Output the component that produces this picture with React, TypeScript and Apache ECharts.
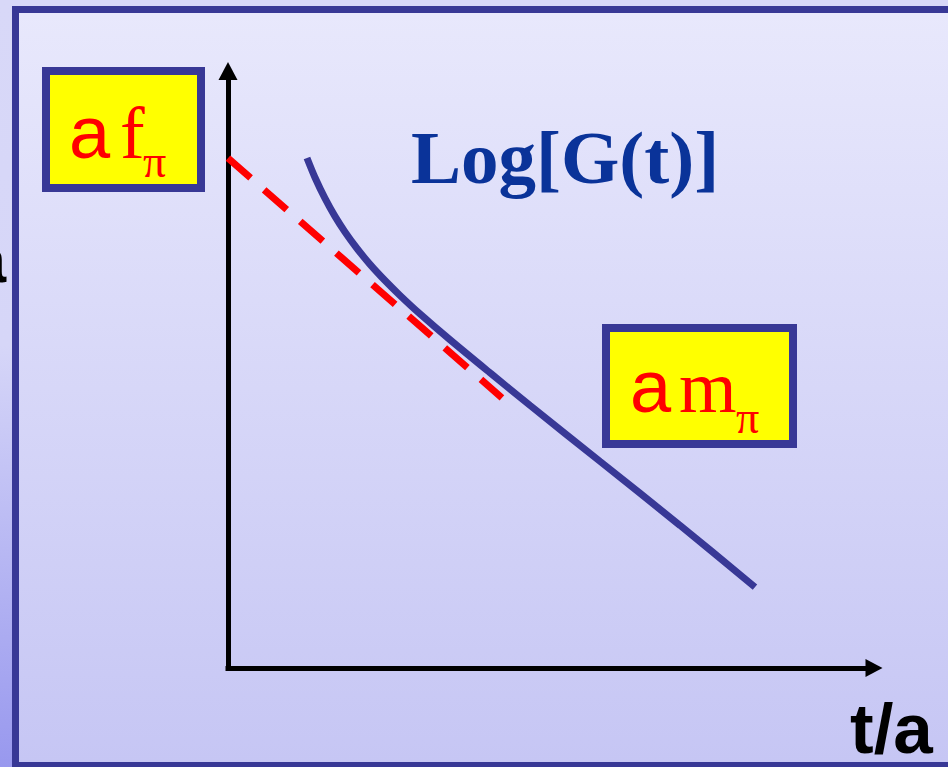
import React, { useEffect, useRef } from "react";
import * as echarts from "echarts";

// Axis ranges (abstract units: t/a on x, Log[G(t)] on y)
const xRange = [0, 10];
const yRange = [0, 10];

// Log[G(t)] curve
const curveT = [1.234, 1.359, 1.516, 1.672, 1.828, 2.016, 2.219, 2.453, 2.688, 3.0, 3.469, 4.094, 4.719, 5.813, 7.063, 8.234];
const curveLogG = [8.644, 8.314, 7.959, 7.654, 7.39, 7.11, 6.842, 6.568, 6.315, 6.002, 5.563, 5.003, 4.451, 3.502, 2.417, 1.37];

// dashed asymptote (a f_pi intercept, slope a m_pi)
const fitT = [0, 4.28];
const fitLogG = [8.64, 4.58];

// labels
const titleText = "Log[G(t)]";
const xAxisText = "t/a";

const SANS = '"Liberation Sans", Arial, sans-serif';
const SERIF = '"Liberation Serif", "Times New Roman", serif';

export default function App() {
  const ref = useRef<HTMLDivElement>(null);
  useEffect(() => {
    if (!ref.current) return;
    const chart = echarts.init(ref.current, null, { renderer: "svg" });
    const txt = (text: string, x: number, baseline: number, size: number, family: string, color: string, weight = "normal", align = "left") => ({
      type: "text",
      x,
      y: baseline - (family === SANS ? 0.3465 : 0.3375) * size,
      z: 20,
      style: {
        text,
        fill: color,
        fontSize: size,
        fontFamily: family,
        fontWeight: weight,
        align,
        verticalAlign: "middle",
      },
    });
    const box = (x: number, y: number, w: number, h: number) => [
      { type: "rect", z: 15, shape: { x, y, width: w, height: h }, style: { fill: "#383896" } },
      { type: "rect", z: 16, shape: { x: x + 8, y: y + 8, width: w - 16, height: h - 16 }, style: { fill: "#ffff00" } },
    ];
    chart.setOption({
      animation: false,
      backgroundColor: "#d8d8f8",
      graphic: [
        {
          type: "rect", z: -30, shape: { x: 0, y: 0, width: 948, height: 767 },
          style: {
            fill: new echarts.graphic.LinearGradient(0, 0, 0, 1, [
              { offset: 0, color: "#d8d8f8" },
              { offset: 0.45, color: "#d6d6f8" },
              { offset: 1, color: "#9898ee" },
            ]),
          },
        },
        { type: "rect", z: -20, shape: { x: 12, y: 6, width: 950, height: 770 }, style: { fill: "#383896" } },
        {
          type: "rect", z: -10, shape: { x: 19, y: 13, width: 940, height: 749 },
          style: {
            fill: new echarts.graphic.LinearGradient(0, 0, 0, 1, [
              { offset: 0, color: "#e8e8fc" },
              { offset: 1, color: "#c6c6f4" },
            ]),
          },
        },
        ...box(42, 67, 163, 125),
        ...box(602, 324, 195, 124),
        txt("a", 69, 158, 74, SANS, "#ff0000"),
        txt("f", 120, 158, 74, SERIF, "#ff0000"),
        txt("π", 143, 177, 46, SERIF, "#ff0000"),
        txt("a", 630, 412, 74, SANS, "#ff0000"),
        txt("m", 679, 412, 74, SERIF, "#ff0000"),
        txt("π", 736, 433, 46, SERIF, "#ff0000"),
        txt(titleText, 411, 183, 75, SERIF, "#0a3399", "bold"),
        txt(xAxisText, 850, 753, 71, SANS, "#000000", "bold"),
        txt("a", 6, 282, 64, SANS, "#000000", "bold", "right"),
      ],
      grid: { left: 228, top: 78, width: 640, height: 590, containLabel: false },
      xAxis: {
        type: "value", min: xRange[0], max: xRange[1],
        axisLine: {
          show: true, symbol: ["none", "triangle"], symbolSize: [18, 17], symbolOffset: [0, 6],
          lineStyle: { color: "#000", width: 5, cap: "square" },
        },
        axisTick: { show: false }, axisLabel: { show: false }, splitLine: { show: false },
      },
      yAxis: {
        type: "value", min: yRange[0], max: yRange[1],
        axisLine: {
          show: true, symbol: ["none", "triangle"], symbolSize: [19, 18], symbolOffset: [0, 7],
          lineStyle: { color: "#000", width: 5, cap: "square" },
        },
        axisTick: { show: false }, axisLabel: { show: false }, splitLine: { show: false },
      },
      series: [
        {
          type: "line", data: fitT.map((t, i) => [t, fitLogG[i]]), showSymbol: false, z: 3,
          lineStyle: { color: "#ff0000", width: 7, type: [30, 18], cap: "butt" },
        },
        {
          type: "line", data: curveT.map((t, i) => [t, curveLogG[i]]), showSymbol: false, smooth: 0.3, z: 4,
          lineStyle: { color: "#383896", width: 7, cap: "butt" },
        },
      ],
    });
    return () => chart.dispose();
  }, []);
  return <div ref={ref} style={{ position: "fixed", left: 0, top: 0, width: 948, height: 767 }} />;
}
